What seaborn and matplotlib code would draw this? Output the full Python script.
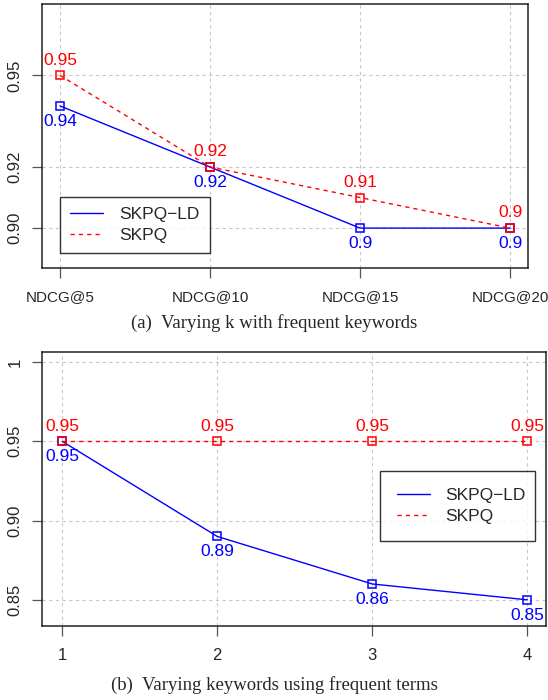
import pandas as pd
import matplotlib.pyplot as plt
import seaborn as sns
from matplotlib.lines import Line2D

k_labels = ['NDCG@5', 'NDCG@10', 'NDCG@15', 'NDCG@20']
k_ld = [0.94, 0.92, 0.90, 0.90]
k_skpq = [0.95, 0.92, 0.91, 0.90]

terms = [1, 2, 3, 4]
terms_ld = [0.95, 0.89, 0.86, 0.85]
terms_skpq = [0.95, 0.95, 0.95, 0.95]

sns.set_style('white')
plt.rcParams['font.family'] = ['Liberation Sans', 'DejaVu Sans']

fig = plt.figure(figsize=(5.48, 7), dpi=100)
ax1 = fig.add_axes([0.0766, 0.617, 0.887, 0.377])
ax2 = fig.add_axes([0.0766, 0.1057, 0.9198, 0.3914])

red_dash = (0, (3, 3))


def draw(ax, x, ld, skpq):
    sns.lineplot(x=x, y=ld, ax=ax, color='blue', lw=1, marker='s', ms=6,
                 markerfacecolor='none', markeredgecolor='blue', mew=1.1,
                 legend=False, zorder=3)
    sns.lineplot(x=x, y=skpq, ax=ax, color='red', lw=1, linestyle=red_dash,
                 marker='s', ms=6, markerfacecolor='none', markeredgecolor='red',
                 mew=1.1, legend=False, zorder=3)
    for xi, v in zip(x, skpq):
        ax.annotate(f'{v:g}', (xi, v), xytext=(0, 11), textcoords='offset points',
                    ha='center', va='center', color='red', fontsize=12.5)
    for xi, v in zip(x, ld):
        ax.annotate(f'{v:g}', (xi, v), xytext=(0, -11), textcoords='offset points',
                    ha='center', va='center', color='blue', fontsize=12.5)
    ax.grid(True, color='#c8c8c8', linestyle=red_dash, lw=0.8)
    for s in ax.spines.values():
        s.set_color('#222222')
        s.set_linewidth(1.1)
    ax.tick_params(axis='both', length=7, width=0.9, color='#555555',
                   labelsize=12, direction='out', left=True, bottom=True)
    ax.tick_params(axis='x', pad=9)
    ax.tick_params(axis='y', pad=7)


def add_legend(ax, box, pad, spacing):
    handles = [Line2D([], [], color='blue', lw=1),
               Line2D([], [], color='red', lw=1, linestyle=red_dash)]
    leg = ax.legend(handles, ['SKPQ\u2212LD', 'SKPQ'], loc='center',
                    bbox_to_anchor=box, mode='expand', fontsize=12.5,
                    frameon=True, fancybox=False, edgecolor='black',
                    handlelength=1.9, handletextpad=0.9, borderpad=pad,
                    labelspacing=spacing, borderaxespad=0)
    leg.get_frame().set_linewidth(1)


# (a)
draw(ax1, terms, k_ld, k_skpq)
ax1.set_xlim(0.88, 4.12)
ax1.set_ylim(0.8869, 0.9733)
ax1.set_xticks(terms)
ax1.set_xticklabels(k_labels, fontsize=11)
ax1.set_yticks([0.90, 0.92, 0.95])
ax1.set_yticklabels(['0.90', '0.92', '0.95'], rotation=90, va='center')
add_legend(ax1, (0.037, 0.057, 0.309, 0.212), 0.6, 0.3)

# (b)
draw(ax2, terms, terms_ld, terms_skpq)
ax2.set_xlim(0.87, 4.12)
ax2.set_ylim(0.8335, 1.0063)
ax2.set_xticks(terms)
ax2.set_xticklabels(['1', '2', '3', '4'])
ax2.set_yticks([0.85, 0.90, 0.95, 1.0])
ax2.set_yticklabels(['0.85', '0.90', '0.95', '1'], rotation=90, va='center')
add_legend(ax2, (0.671, 0.318, 0.307, 0.24), 0.95, 0.35)

serif = ['Liberation Serif', 'DejaVu Serif']
fig.text(0.5, 0.539, '(a)  Varying k with frequent keywords', ha='center',
         va='center', fontsize=13.5, family=serif)
fig.text(0.5, 0.0214, '(b)  Varying keywords using frequent terms', ha='center',
         va='center', fontsize=13.5, family=serif)

fig.savefig('out.png', dpi=100)
